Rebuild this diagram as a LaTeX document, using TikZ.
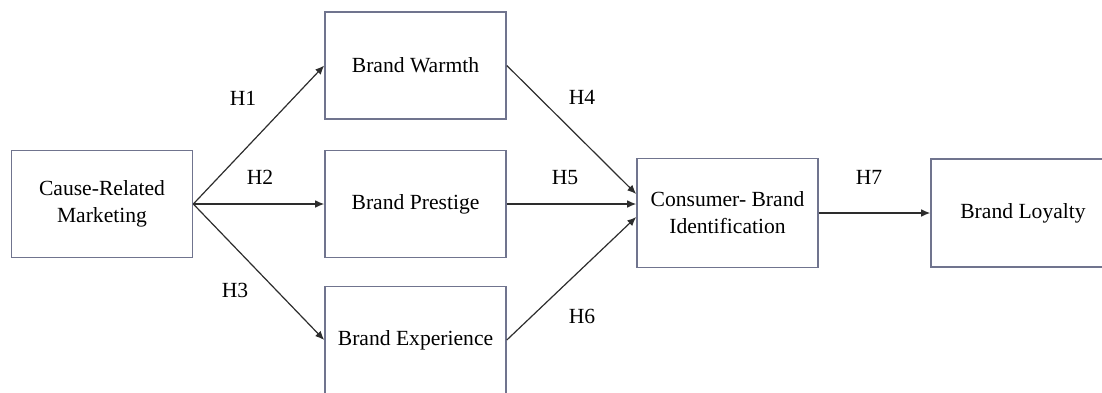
\documentclass[tikz,border=0pt]{standalone}
\usepackage{fontspec}
\setmainfont{Liberation Serif}
\usepackage{tikz}
\usetikzlibrary{positioning, arrows.meta}
\definecolor{boxline}{RGB}{112,116,142}
\definecolor{arrowline}{RGB}{45,45,45}
\tikzset{
    >={Latex[length=4.5pt, width=3.8pt]}, % filled arrow heads
    construct/.style={draw=boxline, line width=0.8pt, fill=white, align=center,
        minimum width=90.5pt, minimum height=53.5pt, inner sep=2pt}, % every box of the model
    path/.style={->, draw=arrowline, line width=0.6pt}, % hypothesis arrows
    hyp/.style={inner sep=0pt}, % the H labels
    every node/.style={font=\fontsize{10.8}{13.5}\selectfont},
}
\begin{document}
\begin{tikzpicture}[x=0.5pt, y=-0.5pt
                  ]
                  \useasboundingbox (0,0) rectangle (1102,392);
                  \node[construct] (crm) at (102,204) {Cause-Related\\Marketing};
                  \node[construct] (bw) at (415.5,65.5) {Brand Warmth};
                  \node[construct] (bp) at (415.5,204) {Brand Prestige};
                  \node[construct] (be) at (415.5,340) {Brand Experience};
                  \node[construct, minimum height=54.5pt] (cbi) at (727.5,213) {Consumer- Brand\\Identification};
                  \node[construct, minimum width=92pt, minimum height=54pt] (bl) at (1023,213) {Brand Loyalty};
                  \draw[path] (crm.east) -- (bw.west);
                  \draw[path] (crm.east) -- (bp.west);
                  \draw[path] (crm.east) -- (be.west);
                  \draw[path] (bw.east) -- ([yshift=9.5pt]cbi.west);
                  \draw[path] (bp.east) -- (cbi.west |- bp.east);
                  \draw[path] (be.east) -- ([yshift=-2pt]cbi.west);
                  \draw[path] (cbi.east) -- (bl.west);
                  \node[hyp] (h1) at (243,98) {H1};
                  \node[hyp] (h2) at (260,177) {H2};
                  \node[hyp] (h3) at (235,290) {H3};
                  \node[hyp] (h4) at (582,97) {H4};
                  \node[hyp] (h5) at (565,178) {H5};
                  \node[hyp] (h6) at (582,316) {H6};
                  \node[hyp] (h7) at (869,177) {H7};
              \end{tikzpicture}
\end{document}
